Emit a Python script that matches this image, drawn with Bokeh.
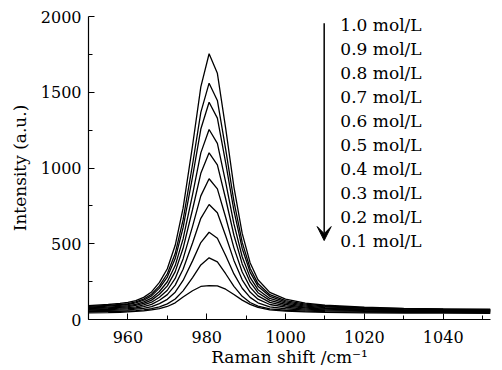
from bokeh.plotting import figure
from bokeh.models import ColumnDataSource, Arrow, VeeHead, Range1d, FixedTicker
from bokeh.core.properties import value
from bokeh.embed import file_html
from bokeh.resources import INLINE

# Raman shift sample positions (cm^-1)
shift = [950, 955, 958, 960, 962, 964, 966, 968, 970, 972, 974, 976.4, 978.5, 980.6, 982.7, 984.8,
         986.9, 989, 991, 993, 996, 1000, 1005, 1010, 1020, 1030, 1040, 1052]

# Intensity (a.u.) for each concentration
c10 = [91, 99, 106, 113, 125, 146, 182, 245, 335, 490, 735, 1148, 1536, 1754, 1625, 1263, 874, 568, 375, 262, 179, 135, 108, 94, 81, 74, 70, 68]
c09 = [86, 93, 99, 105, 116, 135, 167, 222, 302, 435, 657, 1023, 1367, 1560, 1446, 1125, 780, 509, 338, 237, 164, 125, 101, 89, 77, 71, 68, 65]
c08 = [81, 88, 94, 99, 109, 127, 156, 207, 280, 402, 606, 941, 1257, 1434, 1329, 1035, 719, 469, 313, 220, 153, 117, 95, 84, 73, 68, 65, 63]
c07 = [76, 82, 87, 92, 100, 116, 141, 185, 249, 356, 532, 825, 1100, 1254, 1163, 907, 631, 414, 278, 197, 139, 108, 88, 79, 69, 64, 62, 60]
c06 = [72, 77, 81, 85, 93, 106, 128, 167, 222, 316, 470, 726, 965, 1100, 1021, 797, 556, 367, 248, 177, 126, 99, 82, 74, 66, 61, 59, 58]
c05 = [67, 71, 75, 78, 84, 96, 114, 147, 193, 271, 400, 615, 816, 929, 862, 675, 473, 314, 214, 156, 113, 90, 76, 69, 62, 58, 56, 55]
c04 = [62, 66, 68, 71, 76, 85, 100, 127, 164, 227, 332, 505, 668, 759, 705, 553, 390, 262, 181, 134, 99, 81, 69, 64, 58, 55, 54, 52]
c03 = [57, 60, 62, 64, 68, 74, 85, 105, 133, 180, 258, 387, 508, 576, 536, 423, 301, 206, 146, 110, 84, 71, 62, 58, 54, 52, 51, 50]
c02 = [51, 53, 54, 56, 58, 63, 71, 84, 103, 135, 189, 277, 360, 407, 380, 302, 219, 153, 112, 88, 70, 61, 55, 52, 49, 48, 47, 46]
c01 = [44, 46, 48, 50, 53, 57, 63, 72, 86, 110, 148, 190, 218, 224, 222, 200, 165, 128, 100, 80, 64, 55, 50, 47, 44, 43, 42, 41]

series = [c10, c09, c08, c07, c06, c05, c04, c03, c02, c01]
labels = ["1.0 mol/L", "0.9 mol/L", "0.8 mol/L", "0.7 mol/L", "0.6 mol/L",
          "0.5 mol/L", "0.4 mol/L", "0.3 mol/L", "0.2 mol/L", "0.1 mol/L"]

x_ticks = [960, 980, 1000, 1020, 1040]
x_minor = [950, 970, 990, 1010, 1030, 1050]
y_ticks = [0, 500, 1000, 1500, 2000]
y_minor = [250, 750, 1250, 1750]

FONT = "DejaVu Serif"

p = figure(width=502, height=370, output_backend="svg", toolbar_location=None,
           x_range=Range1d(950, 1052), y_range=Range1d(0, 2000),
           min_border_left=88, min_border_right=12, min_border_top=16, min_border_bottom=51)
p.outline_line_color = None
p.background_fill_color = "white"
p.border_fill_color = "white"
p.xgrid.grid_line_color = None
p.ygrid.grid_line_color = None

for ys in series:
    p.line(shift, ys, line_color="black", line_width=1.3)

# concentration labels, stacked top to bottom
label_x = 1013.9
top_y = 1947
step = 159
src = ColumnDataSource(dict(x=[label_x] * len(labels),
                            y=[top_y - i * step for i in range(len(labels))],
                            t=labels))
p.text(x="x", y="y", text="t", source=src, text_font=value(FONT),
       text_font_size="17px", text_baseline="middle", text_align="left",
       text_color="black")

p.add_layout(Arrow(end=VeeHead(size=14, fill_color="black", line_color="black"),
                   x_start=1009.8, y_start=1955, x_end=1009.8, y_end=521,
                   line_color="black", line_width=1.5))

for ax in (p.xaxis[0], p.yaxis[0]):
    ax.axis_line_color = "black"
    ax.axis_line_width = 1.2
    ax.major_tick_in = 6
    ax.major_tick_out = 0
    ax.minor_tick_in = 4
    ax.minor_tick_out = 0
    ax.major_tick_line_color = "black"
    ax.minor_tick_line_color = "black"
    ax.major_label_text_font = FONT
    ax.major_label_text_font_size = "16px"
    ax.major_label_text_color = "black"
    ax.axis_label_text_font = FONT
    ax.axis_label_text_font_size = "17px"
    ax.axis_label_text_font_style = "normal"
    ax.axis_label_text_color = "black"

p.xaxis.ticker = FixedTicker(ticks=x_ticks, minor_ticks=x_minor)
p.yaxis.ticker = FixedTicker(ticks=y_ticks, minor_ticks=y_minor)
p.xaxis.axis_label = "Raman shift /cm\u207b\u00b9"
p.yaxis.axis_label = "Intensity (a.u.)"
p.xaxis.major_label_standoff = 11
p.xaxis.axis_label_standoff = 1
p.yaxis.major_label_standoff = 7
p.yaxis.axis_label_standoff = 8

open("out.html", "w").write(file_html(p, INLINE))
